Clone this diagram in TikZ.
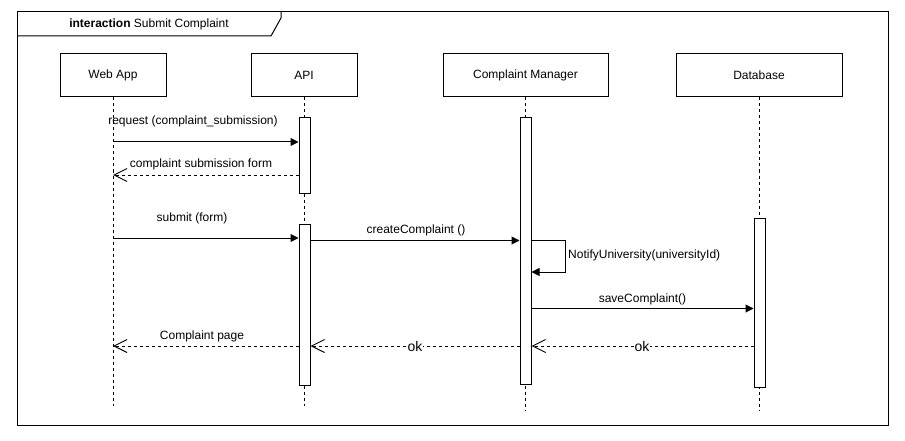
\documentclass[tikz,border=0pt]{standalone}
\usepackage{fontspec}
\setmainfont{Liberation Sans}
\usetikzlibrary{arrows.meta}
\begin{document}
\begin{tikzpicture}[x=1pt,y=-1pt, font=\fontsize{12}{14}\selectfont,
  head/.style={draw, line width=1pt, fill=white, minimum height=43pt, inner sep=0pt},
  act/.style={draw, line width=1pt, fill=white, minimum width=11pt, inner sep=0pt},
  life/.style={dash pattern=on 3pt off 3pt, line width=1pt},
  msg/.style={line width=1pt, -{Triangle[length=8pt,width=8pt]}},
  ret/.style={line width=1pt, dash pattern=on 3pt off 3pt, -{Straight Barb[length=13pt,width=13pt]}},
  lbl/.style={inner sep=0pt},
  oklbl/.style={inner sep=1pt, fill=white, font=\fontsize{14}{16}\selectfont}]
\useasboundingbox (0,0) rectangle (905,441);
% frame
\draw[line width=1pt] (17,12) rectangle (888,425);
\draw[line width=1pt] (17,36) -- (271,36) -- (281,18) -- (281,12);
\node[lbl] (title) at (149,24) {\textbf{interaction} Submit Complaint};
% heads
\node[head, minimum width=106pt] (web) at (113,75.5) {Web App};
\node[head, minimum width=106pt] (api) at (304,75.5) {API};
\node[head, minimum width=165pt] (cm) at (525.5,75.5) {Complaint Manager};
\node[head, minimum width=166pt] (db) at (759,75.5) {Database};
% lifeline ends
\coordinate (webend) at (113,406);
\coordinate (apiend) at (304,406);
\coordinate (cmend) at (525.5,410);
\coordinate (dbend) at (759,410);
\draw[life] (web.south) -- (webend);
\draw[life] (api.south) -- (apiend);
\draw[life] (cm.south) -- (cmend);
\draw[life] (db.south) -- (dbend);
% activations
\node[act, minimum height=75pt] (a1) at (304.5,155.5) {};
\node[act, minimum height=161pt] (a2) at (304.5,304.5) {};
\node[act, minimum height=266pt] (c1) at (525.5,251) {};
\node[act, minimum height=169pt] (d1) at (759.5,302.5) {};
% message anchors
\coordinate (m1) at (113,142);
\coordinate (m2) at (113,175);
\coordinate (m3) at (113,238);
\coordinate (m4) at (310,240.5);
\coordinate (m5) at (531,240.5);
\coordinate (m5b) at (565,272);
\coordinate (m6) at (531,308.5);
\coordinate (m7) at (754,346);
\coordinate (m8) at (520,346);
\coordinate (m9) at (299,346);
% messages
\draw[msg] (m1) -- (m1 -| a1.west);
\draw[ret] (m2 -| a1.west) -- (m2);
\draw[msg] (m3) -- (m3 -| a2.west);
\draw[msg] (m4) -- (m4 -| c1.west);
\draw[msg] (m5) -- (m5 -| m5b) -- (m5b) -- (m5b -| c1.east);
\draw[msg] (m6) -- (m6 -| d1.west);
\draw[ret] (m7) -- (m7 -| c1.east);
\draw[ret] (m8) -- (m8 -| a2.east);
\draw[ret] (m9) -- (m9 -| web.south);
% labels
\node[lbl] (l1) at (193,121) {request (complaint\_submission)};
\node[lbl] (l2) at (201,164) {complaint submission form};
\node[lbl] (l3) at (192,218.5) {submit (form)};
\node[lbl] (l4) at (416,230) {createComplaint ()};
\node[lbl, anchor=west] (l5) at (568,255) {NotifyUniversity(universityId)};
\node[lbl] (l6) at (642.5,299) {saveComplaint()};
\node[oklbl] (l7) at (642,346) {ok};
\node[oklbl] (l8) at (415,346) {ok};
\node[lbl] (l9) at (202,336) {Complaint page};
\end{tikzpicture}
\end{document}
